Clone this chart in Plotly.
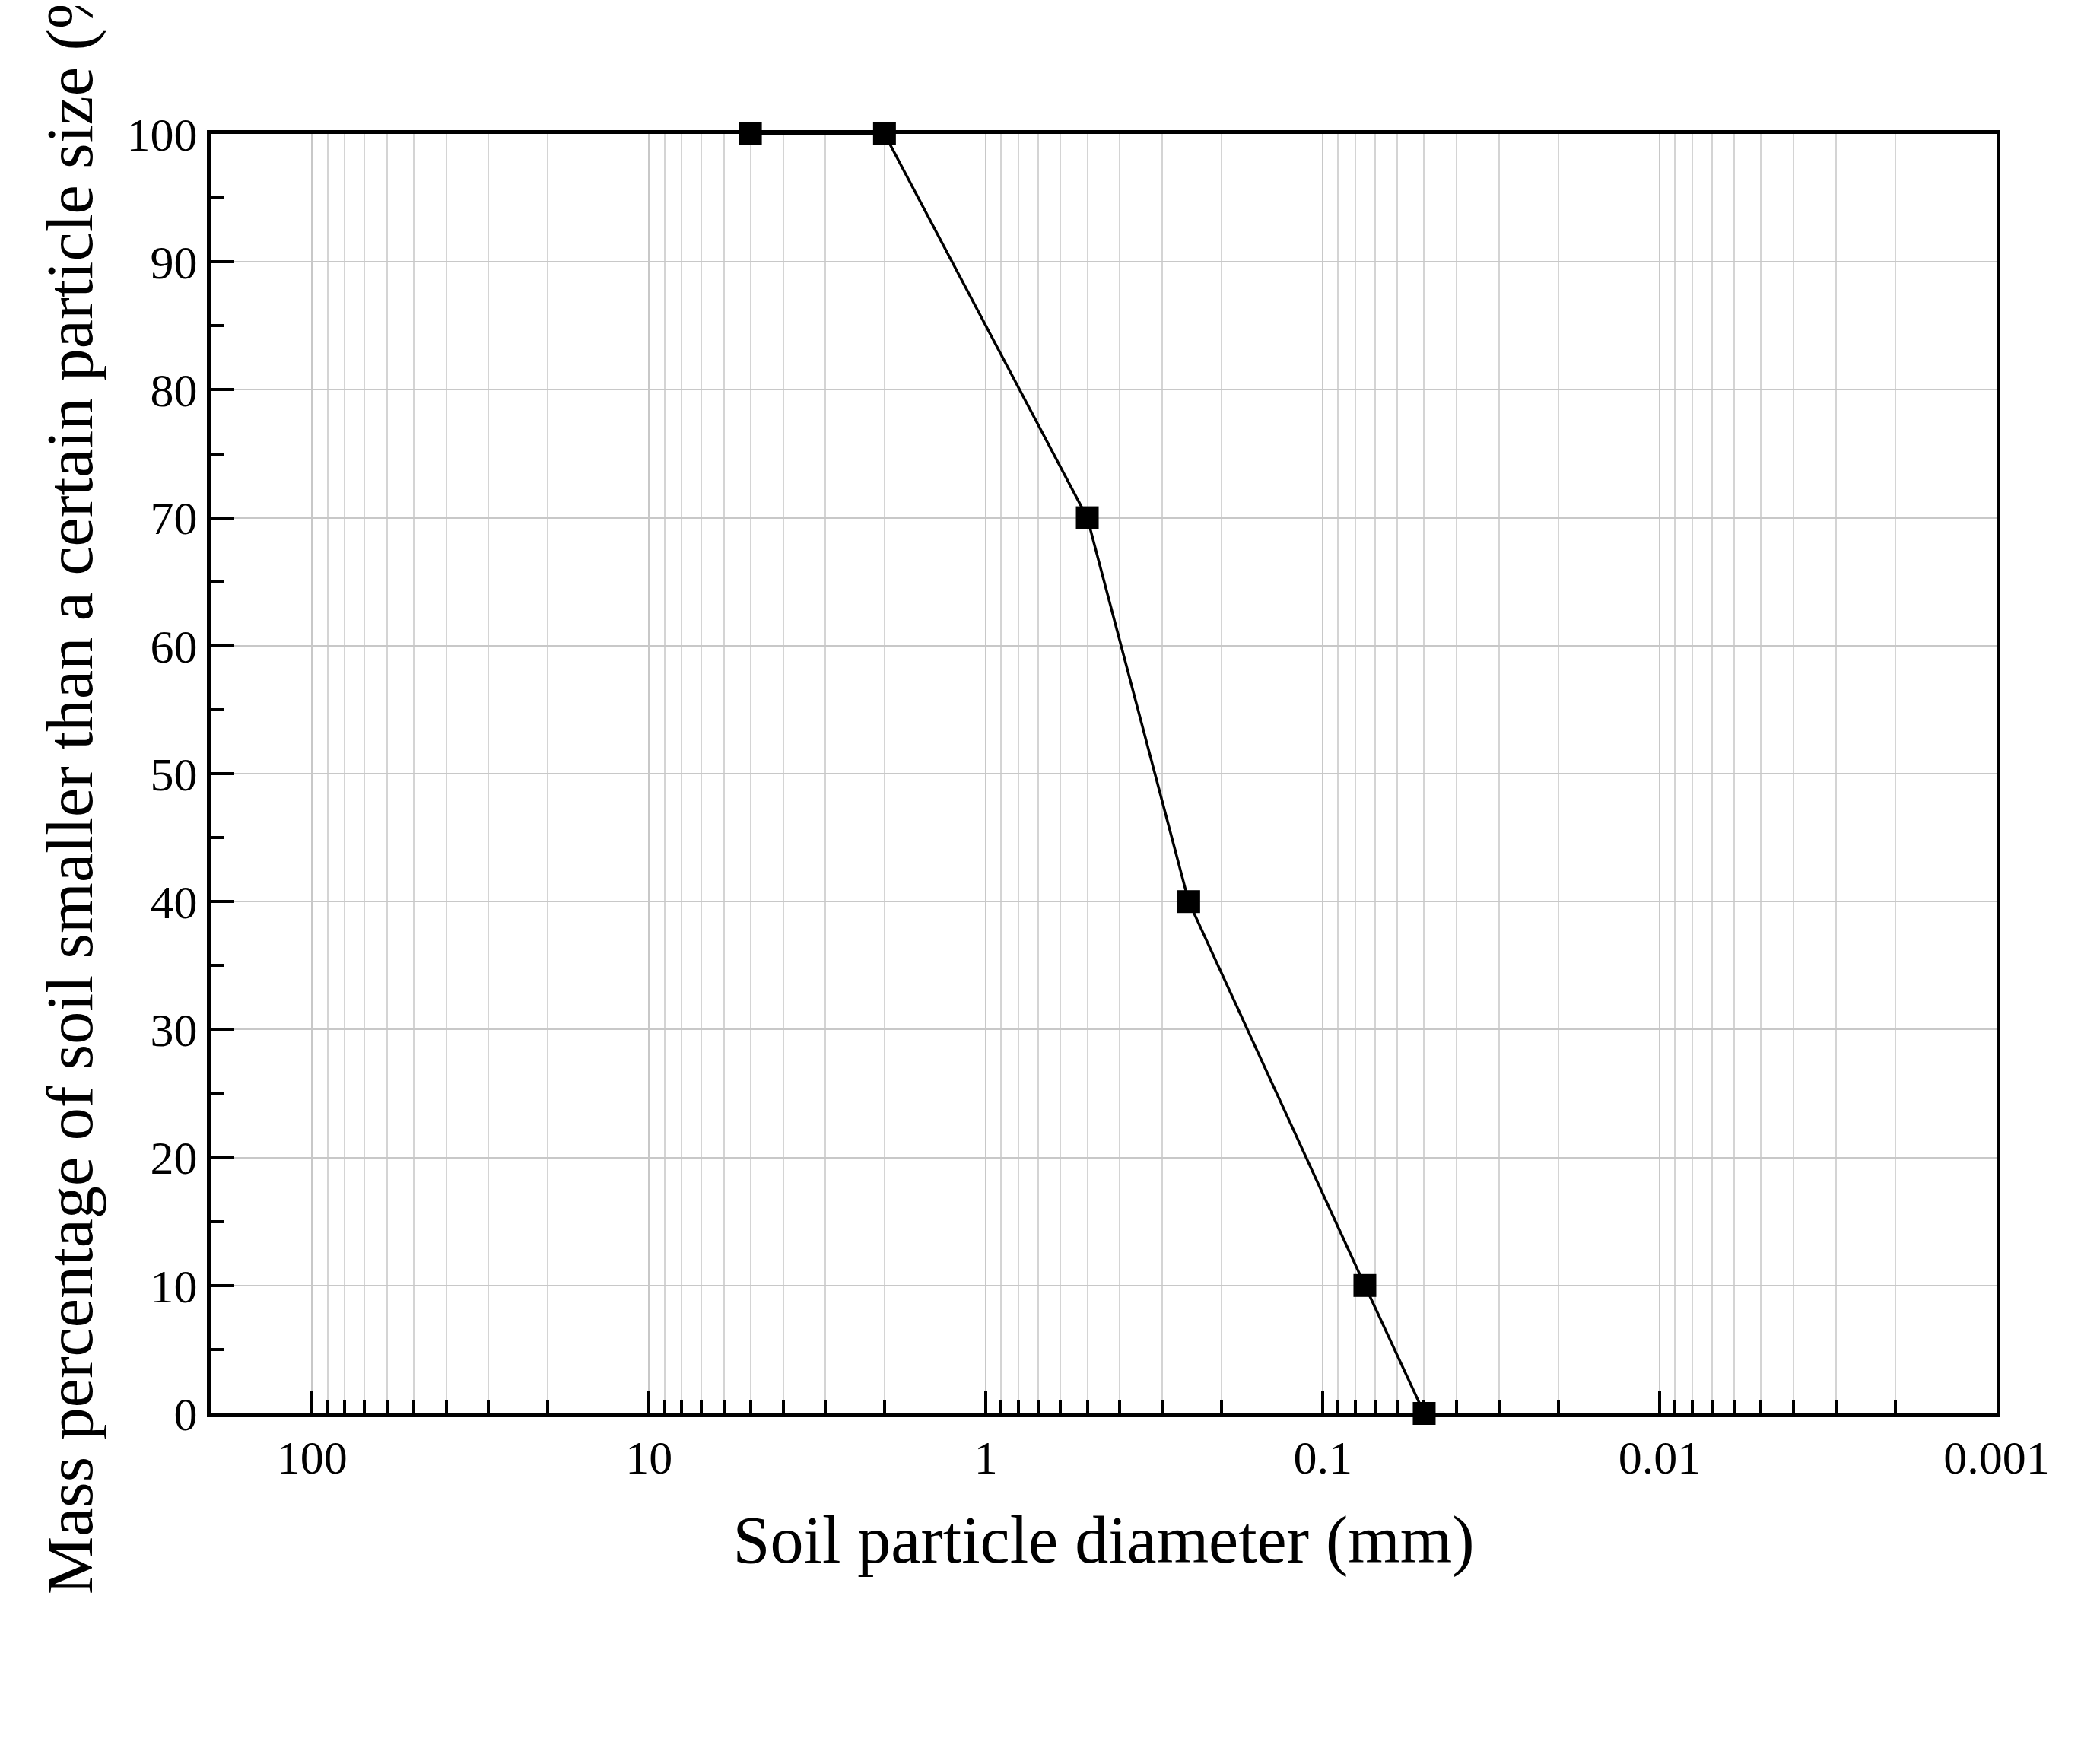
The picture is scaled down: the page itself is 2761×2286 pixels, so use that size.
import plotly.graph_objects as go

diameter = [5, 2, 0.5, 0.25, 0.075, 0.05]
percent_finer = [100, 100, 70, 40, 10, 0]

x_tick_vals = [100, 10, 1, 0.1, 0.01, 0.001]
x_tick_text = ["100", "10", "1", "0.1", "0.01", "0.001"]

minor_vals = [m * 10 ** e for e in range(-3, 3) for m in range(2, 10)]

fig = go.Figure(go.Scatter(
    x=diameter, y=percent_finer, mode="lines+markers",
    line=dict(color="black", width=3.5),
    marker=dict(symbol="square", size=30, color="black"),
    cliponaxis=False,
))

font = "Liberation Serif, Times New Roman, serif"
fig.update_layout(
    width=2761, height=2286,
    paper_bgcolor="white", plot_bgcolor="white",
    margin=dict(l=269, r=144, t=168, b=436),
    font=dict(family=font, color="black", size=62),
    showlegend=False,
)
fig.update_xaxes(
    type="log", range=[2.301, -3],
    tickvals=x_tick_vals, ticktext=x_tick_text,
    ticks="inside", ticklen=30, tickwidth=4, tickcolor="black",
    showgrid=True, gridcolor="#c8c8c8", gridwidth=2,
    minor=dict(tickvals=minor_vals, ticks="inside", ticklen=18, tickwidth=4,
               tickcolor="black", showgrid=True, gridcolor="#d4d4d4", gridwidth=1.5),
    showline=True, linecolor="black", linewidth=5, mirror=True,
    title=dict(text="Soil particle diameter (mm)", font=dict(size=88), standoff=45),
    zeroline=False,
)
fig.update_yaxes(
    range=[0, 100], dtick=10,
    ticks="inside", ticklen=30, tickwidth=4, tickcolor="black",
    showgrid=True, gridcolor="#c8c8c8", gridwidth=2,
    minor=dict(dtick=5, ticks="inside", ticklen=18, tickwidth=4, tickcolor="black", showgrid=False),
    showline=True, linecolor="black", linewidth=5, mirror=True,
    title=dict(text="Mass percentage of soil smaller than a certain particle size (%)",
               font=dict(size=86), standoff=18),
    zeroline=False,
)

fig.write_html("out.html")
